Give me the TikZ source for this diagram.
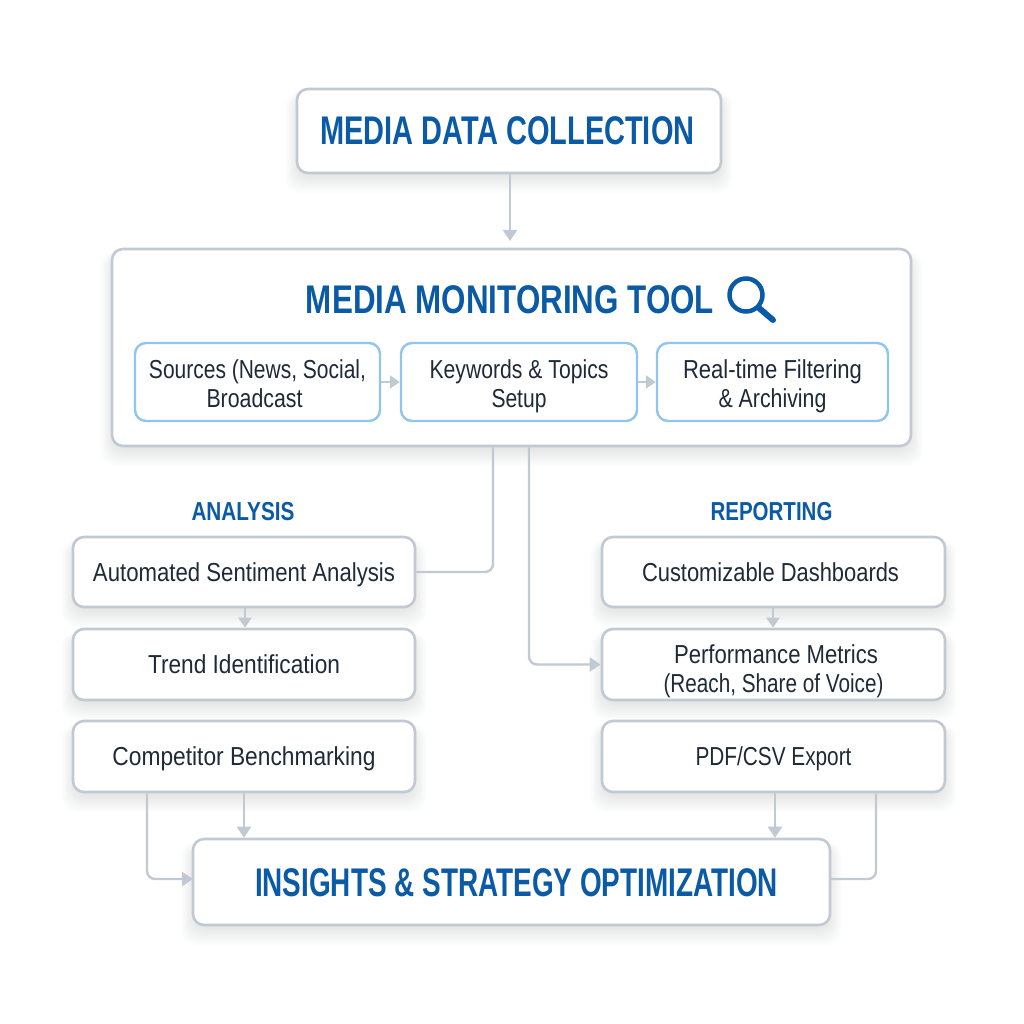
\documentclass[tikz,border=0pt]{standalone}
\usepackage{graphicx}
\usepackage{fontspec}
\setmainfont{Liberation Sans}[BoldFont=Liberation Sans Bold]
\usetikzlibrary{arrows.meta,calc}
\definecolor{headblue}{HTML}{0B5AA6}
\definecolor{edgegrey}{HTML}{C1CAD3}
\definecolor{subblue}{HTML}{90C6EE}
\definecolor{inktext}{HTML}{1E2A38}
\definecolor{shadowc}{HTML}{7F8FA0}
\newcommand{\fw}[2]{\resizebox{#1pt}{\height}{#2}}
\tikzset{
  x=1pt,y=-1pt,
  boxbase/.style={rounded corners=11pt,fill=white,inner sep=0pt,align=center,text=inktext,font=\fontsize{26}{29}\selectfont},
  oneline/.style={text height=18pt,text depth=0pt},
  twoline/.style={text height=#1,text depth=0pt},
  greybox/.style={boxbase,draw=edgegrey,line width=2.6pt},
  subbox/.style={boxbase,draw=subblue,line width=2.4pt},
  headtext/.style={text=headblue,text height=28pt,text depth=0pt,font=\bfseries\fontsize{40}{44}\selectfont},
  grouplabel/.style={text=headblue,inner sep=0pt,text height=18pt,text depth=0pt,font=\bfseries\fontsize{26}{30}\selectfont},
  link/.style={draw=edgegrey,line width=2.4pt,rounded corners=8pt},
  arrowlink/.style={link,-{Triangle[length=11pt,width=14pt]}},
  smallarrow/.style={link,-{Triangle[length=10pt,width=13pt]}},
}
% name, x0, y0, x1, y1, style, text
\newcommand{\softbox}[7]{%
  \foreach \s in {1,2,...,12}{
    \fill[shadowc,opacity=0.016,rounded corners=14pt]
      (#2-\s*1.1+2,#3-\s*0.4+8) rectangle (#4+\s*1.1-2,#5+\s*1.5+2);
  }
  \pgfmathsetmacro{\bw}{#4-#2}
  \pgfmathsetmacro{\bh}{#5-#3}
  \node[#6,minimum width=\bw pt,minimum height=\bh pt] (#1) at ({(#2+#4)/2},{(#3+#5)/2}) {#7};
}
\begin{document}
\begin{tikzpicture}
\useasboundingbox (0,0) rectangle (1024,1024);
\fill[white] (0,0) rectangle (1024,1024);
\softbox{top}{297}{89}{721}{173}{greybox,headtext}{\fw{374}{MEDIA DATA COLLECTION}\hspace{3pt}}
\softbox{main}{112}{249}{911}{446}{greybox}{}
\node[headtext,inner sep=0pt] (maintitle) at (510,299) {\fw{408}{MEDIA MONITORING TOOL}};
\draw[headblue,line width=4.5pt] (746,295) circle (16.5);
\draw[headblue,line width=6pt,line cap=round] (759,308) -- (773,320);
\softbox{sent}{73}{537}{415}{607}{greybox,oneline}{\fw{302}{Automated Sentiment Analysis}}
\softbox{trend}{73}{629}{415}{700}{greybox,oneline}{\fw{192}{Trend Identification}}
\softbox{comp}{73}{721}{415}{792}{greybox,oneline}{\fw{263}{Competitor Benchmarking}}
\softbox{dash}{602}{537}{945}{607}{greybox,oneline}{\fw{257}{Customizable Dashboards}\hspace{6pt}}
\softbox{perf}{602}{629}{945}{700}{greybox,twoline=55pt}{\hspace{5pt}\fw{204}{Performance Metrics}\\\fw{220}{(Reach, Share of Voice)}}
\softbox{pdf}{602}{721}{945}{792}{greybox,oneline}{\fw{156}{PDF/CSV Export}}
\softbox{ins}{193}{839}{830}{925}{greybox,headtext}{\hspace{10pt}\fw{523}{INSIGHTS \& STRATEGY OPTIMIZATION}}
\node[subbox,twoline=50pt,minimum width=245pt,minimum height=78pt] (srcs) at (257.5,382) {\fw{217}{Sources (News, Social,}\\\fw{96}{Broadcast}\hspace*{6pt}};
\node[subbox,twoline=50pt,minimum width=236pt,minimum height=78pt] (keys) at (519,382) {\fw{179}{Keywords \& Topics}\\\fw{55}{Setup}};
\node[subbox,twoline=50pt,minimum width=231pt,minimum height=78pt] (filt) at (772.5,382) {\fw{179}{Real-time Filtering}\\\fw{108}{\& Archiving}};
\node[grouplabel] (analysis) at (243,511) {\fw{103}{ANALYSIS}};
\node[grouplabel] (reporting) at (771.5,511) {\fw{122}{REPORTING}};
\coordinate (topin) at (510,241);
\coordinate (leftx) at (493,0);
\coordinate (rightx) at (529,0);
\coordinate (insl) at (193,879);
\coordinate (insr) at (830,879);
\coordinate (cmpx) at (147,0);
\coordinate (cmpy) at (244,0);
\coordinate (pdfy) at (775,0);
\coordinate (pdfx) at (876,0);
\coordinate (anx) at (245,0);
\coordinate (rpx) at (773,0);
\draw[arrowlink] (top.south -| topin) -- (topin);
\draw[smallarrow] (srcs.east) -- (keys.west);
\draw[smallarrow] (keys.east) -- (filt.west);
\draw[link] (main.south -| leftx) -- (leftx |- sent.east) -- (sent.east);
\draw[arrowlink] (main.south -| rightx) -- (rightx |- perf.west) -- (perf.west);
\draw[smallarrow] (sent.south -| anx) -- (trend.north -| anx);
\draw[smallarrow] (dash.south -| rpx) -- (perf.north -| rpx);
\draw[arrowlink] (comp.south -| cmpy) -- (ins.north -| cmpy);
\draw[arrowlink] (comp.south -| cmpx) -- (cmpx |- insl) -- (insl);
\draw[arrowlink] (pdf.south -| pdfy) -- (ins.north -| pdfy);
\draw[link] (pdf.south -| pdfx) -- (pdfx |- insr) -- (insr);
\end{tikzpicture}
\end{document}
